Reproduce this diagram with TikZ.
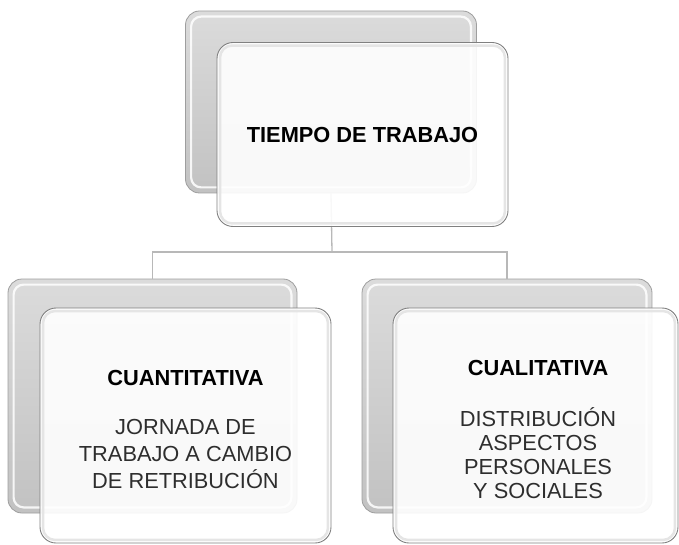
\documentclass[tikz,border=0pt]{standalone}
\usepackage{fontspec}
\setmainfont{Liberation Sans}
\begin{document}
\begin{tikzpicture}[x=1pt,y=-1pt,
  backbox/.style={draw=black!38, line width=0.8pt, rounded corners=14pt,
    top color=black!14, bottom color=black!24, inner sep=0pt},
  frontbox/.style={draw=black!50, line width=0.9pt, rounded corners=16pt,
    fill=white, fill opacity=0.9, inner sep=0pt},
  boxtext/.style={align=center, inner sep=0pt, text=black!82,
    font=\fontsize{21.8}{27}\selectfont},
  hilite/.style={draw=white, line width=2.2pt, rounded corners=10pt, opacity=0.85},
  bevel/.style={draw=black!10, line width=2.5pt, rounded corners=12pt},
  conn/.style={draw=black!28, line width=1.3pt}
]
\useasboundingbox (0,0) rectangle (679,545);

% back boxes
\node[backbox, minimum width=291pt, minimum height=182pt] (tb) at (331,102) {};
\node[backbox, minimum width=289pt, minimum height=234pt] (lb) at (152.5,396) {};
\node[backbox, minimum width=290pt, minimum height=234pt] (rb) at (507,396) {};
\foreach \b in {tb,lb,rb}{
  \draw[hilite] ([shift={(6,6)}]\b.north west) rectangle ([shift={(-6,-6)}]\b.south east);
}

% connectors
\coordinate (j) at (332,252);
\draw[conn] (tb.south) -- (j);
\draw[conn] (j) -| (lb.north);
\draw[conn] (j) -| (rb.north);

% front boxes
\node[frontbox, minimum width=291pt, minimum height=184pt] (tf) at (362.5,134.5) {};
\node[frontbox, minimum width=291pt, minimum height=235pt] (lf) at (185.5,425.5) {};
\node[frontbox, minimum width=285pt, minimum height=235pt] (rf) at (535.5,425.5) {};
\foreach \b in {tf,lf,rf}{
  \draw[bevel] ([shift={(3.5,3.5)}]\b.north west) rectangle ([shift={(-3.5,-3.5)}]\b.south east);
}

% texts
\node[boxtext, text=black] (tt) at (362.5,134.5) {\textbf{TIEMPO DE TRABAJO}};
\node[boxtext] (lt) at (185.5,429)
  {{\bfseries\color{black}CUANTITATIVA}\\[22pt]JORNADA DE\\TRABAJO A CAMBIO\\DE RETRIBUCIÓN};
\node[boxtext, font=\fontsize{21.8}{24}\selectfont] (rt) at (538,429)
  {{\bfseries\color{black}CUALITATIVA}\\[27pt]DISTRIBUCIÓN\\ASPECTOS\\PERSONALES\\Y SOCIALES};
\end{tikzpicture}
\end{document}
